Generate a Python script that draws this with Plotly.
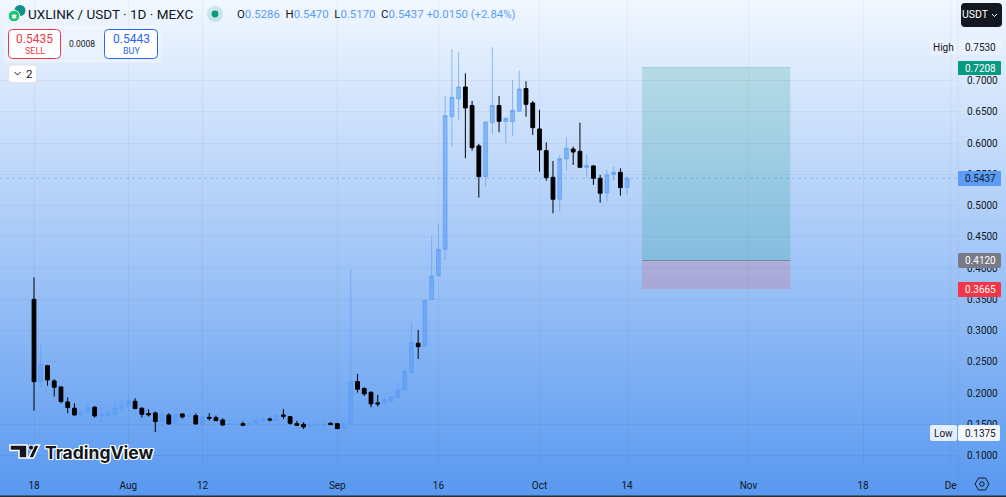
import pandas as pd
import plotly.graph_objects as go

opens = [.3499,.2182,.2438,.2193,.2097,.1857,.1756,.1649,.1687,.1772,.1639,.1633,.1660,.1751,.1793,.1868,.1756,.1671,.1681,.1543,.1649,.1516,.1665,
         .1622,.1638,.1505,.1611,.1606,.1569,.1494,.1489,.1510,.1483,.1515,.1553,.1585,.1558,.1649,.1622,.1510,.1499,.1462,.1489,.1483,.1515,.1510,.1435,
         .1506,.2183,.2071,.2012,.1842,.1826,.1874,.1932,.2050,.2327,.2796,.2742,.3494,.3878,.4301,.6422,.6705,.6896,.6598,.5953,.5463,.6326,.6598,.6342,.6342,.6507,
         .6870,.6641,.6225,.5878,.5451,.5100,.5745,.5904,.5867,.5611,.5633,.5435,.5201,.5494,.5531,.5286]
highs = [.3851,.2795,.2449,.2220,.2102,.1932,.1836,.1729,.1825,.1793,.1793,.1793,.1889,.1900,.1943,.1916,.1772,.1740,.1703,.1719,.1676,.1676,.1676,
         .1649,.1675,.1633,.1675,.1638,.1595,.1558,.1526,.1542,.1531,.1633,.1622,.1606,.1649,.1745,.1633,.1553,.1531,.1505,.1537,.1569,.1531,.1515,.1521,
         .3968,.2305,.2092,.2023,.1970,.1943,.1954,.2172,.2412,.3142,.3009,.3489,.4501,.4700,.6753,.7504,.7451,.7115,.6673,.5985,.6342,.7530,.6753,.6411,.7008,.7158,
         .6987,.6673,.6529,.6011,.5713,.5808,.6091,.5942,.6326,.5819,.5649,.5489,.5569,.5622,.5595,.5470]
lows = [.1719,.2092,.2118,.1943,.1836,.1676,.1639,.1569,.1676,.1607,.1543,.1623,.1649,.1703,.1703,.1740,.1607,.1623,.1375,.1543,.1490,.1490,.1591,
        .1590,.1494,.1494,.1558,.1553,.1473,.1489,.1483,.1473,.1473,.1505,.1515,.1547,.1558,.1585,.1494,.1473,.1425,.1451,.1483,.1473,.1489,.1425,.1425,
        .1490,.2007,.1954,.1772,.1783,.1826,.1847,.1916,.2039,.2327,.2545,.2742,.3489,.3862,.4128,.5942,.6369,.5756,.5878,.5127,.5303,.6145,.6172,.5996,.6113,.6502,
        .6422,.6129,.5543,.5398,.4876,.4902,.5558,.5649,.5611,.5446,.5329,.5046,.5062,.5398,.5158,.5170]
closes = [.2182,.2460,.2209,.2092,.1863,.1767,.1649,.1697,.1772,.1633,.1649,.1676,.1761,.1793,.1873,.1751,.1660,.1649,.1543,.1655,.1505,.1665,.1617,
          .1643,.1505,.1622,.1595,.1558,.1489,.1505,.1505,.1483,.1515,.1569,.1585,.1569,.1643,.1627,.1515,.1483,.1457,.1499,.1499,.1499,.1494,.1430,.1515,
          .2183,.2060,.1986,.1826,.1826,.1890,.1938,.2050,.2348,.2812,.2742,.3483,.3872,.4299,.6438,.6731,.6896,.6561,.5926,.5463,.6337,.6598,.6347,.6395,.6523,.6864,
          .6619,.6246,.5889,.5446,.5100,.5750,.5915,.5856,.5611,.5638,.5435,.5196,.5489,.5531,.5286,.5437]
first_day = "2024-07-18"

price_ticks = [.10,.15,.20,.25,.30,.35,.40,.45,.50,.55,.60,.65,.70]
time_ticks = ["2024-07-18","2024-08-01","2024-08-12","2024-09-01","2024-09-16","2024-10-01","2024-10-14","2024-11-01","2024-11-18","2024-12-01"]
time_labels = ["18","Aug","12","Sep","16","Oct","14","Nov","18","De"]

take_profit = 0.7208
entry = 0.4120
stop = 0.3665
box_start = "2024-10-16 05:00"
box_end = "2024-11-07 05:00"
last_price = closes[-1]

W, H = 1006, 497
INK = "#131722"
UP = "#5b9cf6"
FONT = "Roboto"
AXIS_SIZE = 10

def px(x): return x / W
def py(y): return 1 - y / H

shapes, notes = [], []

# page-wide background gradient, painted top to bottom
STEPS = 166
for s in range(STEPS):
    t = s / (STEPS - 1)
    c = (round(241 - 153 * t), round(247 - 95 * t), round(255 - 15 * t))
    shapes.append(dict(type="rect", xref="paper", yref="paper", x0=0, x1=1, y0=0, y1=py(s * H / STEPS),
                       fillcolor=f"rgb{c}", line_width=0, layer="below"))

def rrect(x0, y0, x1, y1, fill, line=None, r=3, lw=1, layer="above"):
    p = (f"M{px(x0+r)},{py(y0)} L{px(x1-r)},{py(y0)} Q{px(x1)},{py(y0)} {px(x1)},{py(y0+r)} "
         f"L{px(x1)},{py(y1-r)} Q{px(x1)},{py(y1)} {px(x1-r)},{py(y1)} L{px(x0+r)},{py(y1)} "
         f"Q{px(x0)},{py(y1)} {px(x0)},{py(y1-r)} L{px(x0)},{py(y0+r)} Q{px(x0)},{py(y0)} {px(x0+r)},{py(y0)} Z")
    shapes.append(dict(type="path", xref="paper", yref="paper", path=p, fillcolor=fill,
                       line=dict(color=line or "rgba(0,0,0,0)", width=lw if line else 0), layer=layer))

def poly(points, fill=None, line=None, lw=1, close=True):
    p = "M" + " L".join(f"{px(x)},{py(y)}" for x, y in points) + (" Z" if close else "")
    shapes.append(dict(type="path", xref="paper", yref="paper", path=p, fillcolor=fill or "rgba(0,0,0,0)",
                       line=dict(color=line or "rgba(0,0,0,0)", width=lw if line else 0), layer="above"))

def disc(cx, cy, r, fill, line=None, lw=1):
    shapes.append(dict(type="circle", xref="paper", yref="paper", x0=px(cx-r), x1=px(cx+r), y0=py(cy+r), y1=py(cy-r),
                       fillcolor=fill, line=dict(color=line or "rgba(0,0,0,0)", width=lw if line else 0), layer="above"))

def label(x, y, text, size=11, color=INK, anchor="center", family=FONT, **kw):
    notes.append(dict(xref="paper", yref="paper", x=px(x), y=py(y), text=text, showarrow=False, xanchor=anchor,
                      yanchor="middle", font=dict(size=size, color=color, family=family, **kw), borderpad=0, borderwidth=0))

# trade position box
shapes += [
    dict(type="rect", x0=box_start, x1=box_end, y0=entry, y1=take_profit, fillcolor="rgba(8,153,129,0.19)", line_width=0, layer="below"),
    dict(type="rect", x0=box_start, x1=box_end, y0=stop, y1=entry, fillcolor="rgba(242,54,69,0.17)", line_width=0, layer="below"),
    dict(type="line", x0=box_start, x1=box_end, y0=entry, y1=entry, line=dict(color="rgba(120,123,134,0.8)", width=1), layer="below"),
    dict(type="line", x0=box_start, x1=box_end, y0=take_profit, y1=take_profit, line=dict(color="rgba(8,153,129,0.2)", width=1), layer="below"),
    dict(type="line", xref="paper", x0=0, x1=957/W, y0=last_price, y1=last_price, line=dict(color="rgba(91,156,246,0.5)", width=1, dash="dot"), layer="below"),
]

# price axis separators and flags
poly([(958, 0), (958, 497)], line="rgba(42,46,57,0.05)", close=False)
rrect(930, 40, 957, 55, "rgba(255,255,255,0.25)", r=2)
rrect(958, 40, 1001, 55, "rgba(255,255,255,0.25)", r=2)
label(943.5, 47.5, "High", AXIS_SIZE)
label(980.5, 47.5, "0.7530", AXIS_SIZE)
rrect(958, 61, 1001, 75, "#089981", r=1)
label(980.5, 68, "0.7208", AXIS_SIZE, "#ffffff")
rrect(958, 171, 1001, 186, UP, r=1)
label(980.5, 178.5, "0.5437", AXIS_SIZE, INK)
rrect(958, 253, 1001, 268, "#787b86", r=2)
label(980.5, 260.5, "0.4120", AXIS_SIZE, "#ffffff")
rrect(958, 282, 1001, 297, "#f23645", r=1)
label(980.5, 289.5, "0.3665", AXIS_SIZE, "#ffffff")
rrect(930, 425, 957, 441, "rgba(255,255,255,0.82)", r=2)
rrect(958, 425, 1000, 441, "rgba(255,255,255,0.92)", r=2)
label(943.5, 433, "Low", AXIS_SIZE)
label(980.5, 433, "0.1375", AXIS_SIZE)

# currency button
rrect(961, 3, 1002, 27, INK, r=4)
label(975.5, 15, "USDT", 10.5, "#ffffff")
poly([(992, 14), (994.5, 16.5), (997, 14)], line="#ffffff", close=False)

# settings hexagon
poly([(975, 484), (978.5, 478), (985.5, 478), (989, 484), (985.5, 490), (978.5, 490)], line=INK, lw=1)
disc(982, 484, 2.2, "rgba(0,0,0,0)", line=INK)

# header
disc(20, 10.5, 5.5, "#12908a")
disc(14, 16, 5.8, "#1fc46f", line="#e8f1fd")
label(14, 17, "✱", 7, "#ffffff", family="DejaVu Sans")
label(28, 14, "UXLINK / USDT · 1D · MEXC", 13.5, anchor="left")
disc(215, 14, 8, "rgba(8,153,129,0.16)")
disc(215, 14, 3.4, "#089981")
val = lambda s: f'<span style="color:{UP}">{s}</span>'
label(237, 14, "O" + val("0.5286") + "  H" + val("0.5470") + "  L" + val("0.5170") + "  C" + val("0.5437") + " " +
      val("+0.0150 (+2.84%)"), 11.4, anchor="left")

# quick trade panel
rrect(4, 25, 161, 63, "rgba(255,255,255,0.3)", r=0)
rrect(8.5, 29.5, 60.5, 58.5, "#ffffff", line="#f23645", r=4)
label(34.5, 39, "0.5435", 12, "#f23645")
label(34.5, 51.5, "SELL", 9, "#f23645")
label(82, 44, "0.0008", 8.5)
rrect(104.5, 29.5, 157.5, 58.5, "#ffffff", line="#2962ff", r=4)
label(131, 39, "0.5443", 12, "#2962ff")
label(131, 51.5, "BUY", 9, "#2962ff")
rrect(8.5, 65, 36.5, 82.5, "#ffffff", line="#e0e3eb", r=3)
poly([(14.5, 72), (17.5, 75), (20.5, 72)], line=INK, close=False)
label(29, 74, "2", 11.5)

# TradingView mark
poly([(10, 445), (27, 445), (27, 458), (19, 458), (19, 450.5), (10, 450.5)], fill="#131722", line="#ffffff", lw=1.5)
poly([(34.5, 445), (39.5, 445), (33.5, 458), (28.5, 458)], fill="#131722", line="#ffffff", lw=1.5)
disc(31, 447.6, 2.6, "#131722", line="#ffffff", lw=1)
label(45, 452, "<b>TradingView</b>", 17.5, "#131722", anchor="left", family="Inter",
      shadow="1px 0 0 #fff,-1px 0 0 #fff,0 1px 0 #fff,0 -1px 0 #fff,1px 1px 0 #fff,-1px -1px 0 #fff,1px -1px 0 #fff,-1px 1px 0 #fff")

# bottom edge of the screenshot
shapes.append(dict(type="rect", xref="paper", yref="paper", x0=0, x1=1, y0=0, y1=1.5/H, fillcolor="#2a2e39", line_width=0, layer="above"))

dates = pd.date_range(first_day, periods=len(opens))
fig = go.Figure(go.Candlestick(
    x=dates, open=opens, high=highs, low=lows, close=closes,
    whiskerwidth=0,
    increasing=dict(line=dict(color="rgba(91,156,246,0.65)", width=1), fillcolor="rgba(91,156,246,0.62)"),
    decreasing=dict(line=dict(color="#000000", width=1), fillcolor="#000000"),
    hoverinfo="skip",
))

d0 = pd.Timestamp(first_day)
day_px = 6.74
x_range = [d0 + pd.Timedelta(days=(0 - 34) / day_px), d0 + pd.Timedelta(days=(957 - 34) / day_px)]
y_range = [0.8288 - 0.0016 * 468, 0.8288]

fig.update_layout(
    width=W, height=H, autosize=False,
    margin=dict(l=0, r=0, t=0, b=0, pad=0),
    paper_bgcolor="rgba(0,0,0,0)", plot_bgcolor="rgba(0,0,0,0)",
    showlegend=False, hovermode=False, dragmode=False,
    shapes=shapes, annotations=notes, boxgap=0.2,
    font=dict(family=FONT, color=INK, size=11),
    xaxis=dict(domain=[0, 957 / W], range=x_range, type="date", rangeslider=dict(visible=False),
               tickmode="array", tickvals=time_ticks, ticktext=time_labels, tickfont=dict(size=AXIS_SIZE, color=INK, family=FONT),
               ticks="outside", ticklen=8, tickcolor="rgba(0,0,0,0)", showline=False, zeroline=False,
               showgrid=True, gridcolor="rgba(42,46,57,0.05)", gridwidth=1),
    yaxis=dict(domain=[1 - 468 / H, 1], range=y_range, side="right", anchor="x",
               tickmode="array", tickvals=price_ticks, tickformat=".4f", tickfont=dict(size=AXIS_SIZE, color=INK, family=FONT),
               ticks="outside", ticklen=7, tickcolor="rgba(0,0,0,0)", showline=False, zeroline=False,
               showgrid=True, gridcolor="rgba(42,46,57,0.05)", gridwidth=1),
)

fig.write_html("out.html", config=dict(displayModeBar=False, responsive=False),
               post_script="document.body.style.margin='0';document.documentElement.style.overflow='hidden';")
